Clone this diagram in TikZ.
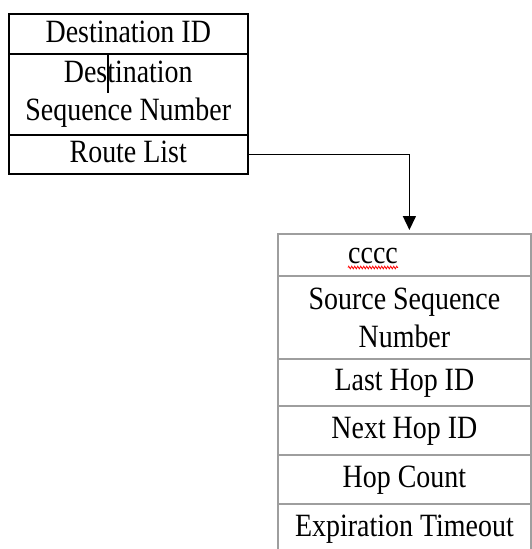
\documentclass[tikz,border=0pt]{standalone}
\usepackage{fontspec}
\setmainfont[FakeStretch=0.86]{Liberation Serif}
\usetikzlibrary{arrows.meta, decorations.pathmorphing}
\tikzset{
    cell/.style = {draw, line width=1.5pt, anchor=north west, inner sep=0pt,
        align=center, font=\fontsize{32.5}{38}\selectfont},
    oneline/.style = {text height=23pt, text depth=6.5pt},
    leftcell/.style = {cell, draw=black, minimum width=239pt},
    rightcell/.style = {cell, draw=black!38, line width=1.8pt, minimum width=253pt}
}

\begin{document}
\begin{tikzpicture}[x=1pt, y=-1pt]
        \useasboundingbox (0,0) rectangle (531,549);
        % left table
        \node[leftcell, oneline, minimum height=40pt] (destid) at (8,13) {Destination ID};
        \node[leftcell, minimum height=81pt] (destseq) at (8,53) {Destination\\Sequence Number};
        \node[leftcell, oneline, minimum height=39pt] (routelist) at (8,134) {Route List};
        \draw[line width=2.5pt] (108,53) -- (108,93);
        % right table
        \node[rightcell, minimum height=42pt] (cccc) at (277,233) {};
        \node[anchor=base west, inner sep=0pt, font=\fontsize{32.5}{38}\selectfont] (ccccText) at (348,263) {cccc};
        \draw[red, line width=0.8pt, decorate, decoration={zigzag, segment length=3pt, amplitude=1.3pt}]
            (ccccText.south west) ++(0,4) -- ++(50,0);
        \node[rightcell, minimum height=83pt] (srcseq) at (277,275) {Source Sequence\\Number};
        \node[rightcell, oneline, minimum height=47pt] (lasthop) at (277,358) {Last Hop ID};
        \node[rightcell, oneline, minimum height=49pt] (nexthop) at (277,405) {Next Hop ID};
        \node[rightcell, oneline, minimum height=49pt] (hopcount) at (277,454) {Hop Count};
        \node[rightcell, oneline, minimum height=48pt] (expiry) at (277,503) {Expiration Timeout};
        % link
        \draw[line width=1.5pt, shorten >=3pt, -{Triangle[length=14pt, width=13pt]}] (routelist.east) -| ([xshift=5pt]cccc.north);
    \end{tikzpicture}
\end{document}
